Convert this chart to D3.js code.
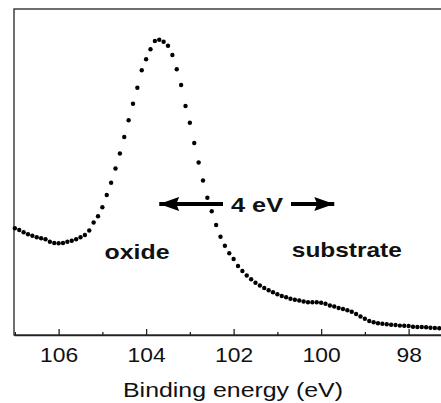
<!DOCTYPE html>
<html>
<head>
<meta charset="utf-8">
<script src="https://cdn.jsdelivr.net/npm/d3@7"></script>
<style>
  body { margin: 0; background: #fff; }
  .tick text { font-family: "Liberation Sans", Arial, sans-serif; }
</style>
</head>
<body>
<script>
// XPS spectrum: oxide peak and substrate shoulder

// binding energy grid of the measurement, 107.0 down to 97.3 eV in 0.1 eV steps
var eStart = 107.0, eStep = 0.1;

// intensity (arb. units)
var intensity = [
  106.7, 105, 102.7, 100.7, 99.3, 97.7, 96.7, 95.7, 93.3, 92,
  91.7, 92, 93.3, 94.3, 95.7, 97.7, 100, 104.5, 112.5, 118.7,
  127.7, 140, 152.2, 166.5, 181.5, 198, 214.7, 231.3, 247.3, 264.7,
  275.7, 285.7, 294, 295.3, 293.2, 289.3, 280, 265.7, 250, 229,
  212.3, 192, 172.5, 154.5, 137.3, 123.7, 110, 98.3, 89.3, 81.7,
  76, 69, 64, 59.5, 55.7, 52.3, 49.5, 47, 44.7, 42.7,
  40.7, 39, 37.7, 36.2, 35.3, 34.5, 33.5, 32.8, 32.7, 32.7,
  32.3, 31.2, 29.5, 28.5, 27, 26, 24.8, 23.2, 21, 18.5,
  16.2, 14, 12.8, 11.7, 11.3, 10.7, 10.3, 10, 9.4, 9.3,
  9, 8.3, 8, 8, 7.7, 7.3, 7, 6.7
];

var majorTicks = [106, 104, 102, 100, 98];
var minorTicks = [107, 105, 103, 101, 99, 97];

var xLabel = "Binding energy (eV)";
var labels = [
  {text: "oxide", e: 104.95, y: 76.5, len: 65},
  {text: "substrate", e: 100.67, y: 78.5, len: 110}
];
var shiftText = "4 eV";
var shiftFrom = 103.7, shiftTo = 99.7, shiftY = 131;

// dimensions
var width = 441;
var height = 403;
var plotLeft = 14, plotTop = 9, plotBottom = 335;
var sans = "Liberation Sans, Arial, sans-serif";

var data = intensity.map(function(v, i) {
  return [Math.round((eStart - i * eStep) * 10) / 10, v];
});

var svg = d3.select("body")
  .append("svg")
  .attr("width", width)
  .attr("height", height);

var xScale = d3.scaleLinear()
  .domain([107.02, 97.26])
  .range([plotLeft, width]);

var yScale = d3.scaleLinear()
  .domain([0, 326])
  .range([plotBottom, plotTop]);

// frame
svg.append("rect")
  .attr("x", plotLeft)
  .attr("y", plotTop)
  .attr("width", width + 5 - plotLeft)
  .attr("height", plotBottom - plotTop)
  .attr("fill", "none")
  .attr("stroke", "#222")
  .attr("stroke-width", 1.3);

// minor ticks
svg.append("g")
  .attr("transform", "translate(0," + plotBottom + ")")
  .call(d3.axisBottom(xScale).tickValues(minorTicks).tickSize(-3).tickFormat(""))
  .call(function(g) { g.select(".domain").remove(); })
  .selectAll("line").attr("stroke", "#222").attr("stroke-width", 1.3);

// major ticks with labels
var xAxis = svg.append("g")
  .attr("transform", "translate(0," + plotBottom + ")")
  .call(d3.axisBottom(xScale).tickValues(majorTicks).tickSizeInner(-6).tickSizeOuter(0).tickPadding(12));
xAxis.select(".domain").attr("stroke", "#222").attr("stroke-width", 1.3);
xAxis.selectAll("line").attr("stroke", "#222").attr("stroke-width", 1.3);
xAxis.selectAll("text")
  .attr("font-size", 21)
  .attr("textLength", function(d) { return String(d).length * 12.7; })
  .attr("lengthAdjust", "spacingAndGlyphs")
  .attr("fill", "#111");

svg.append("text")
  .attr("x", 233)
  .attr("y", 397)
  .attr("text-anchor", "middle")
  .attr("font-family", sans)
  .attr("font-size", 21)
  .attr("textLength", 220)
  .attr("lengthAdjust", "spacingAndGlyphs")
  .attr("fill", "#111")
  .text(xLabel);

// data points
svg.selectAll("circle")
  .data(data)
  .enter()
  .append("circle")
  .attr("cx", function(d) { return xScale(d[0]); })
  .attr("cy", function(d) { return yScale(d[1]); })
  .attr("r", 2.2)
  .attr("fill", "#000");

// annotations
svg.selectAll(".lab")
  .data(labels)
  .enter()
  .append("text")
  .attr("class", "lab")
  .attr("x", function(d) { return xScale(d.e); })
  .attr("y", function(d) { return yScale(d.y); })
  .attr("font-family", sans)
  .attr("font-weight", "bold")
  .attr("font-size", 21)
  .attr("textLength", function(d) { return d.len; })
  .attr("lengthAdjust", "spacingAndGlyphs")
  .attr("fill", "#111")
  .text(function(d) { return d.text; });

svg.append("defs").append("marker")
  .attr("id", "head")
  .attr("viewBox", "0 0 20 14")
  .attr("refX", 20)
  .attr("refY", 7)
  .attr("markerWidth", 20)
  .attr("markerHeight", 14)
  .attr("markerUnits", "userSpaceOnUse")
  .attr("orient", "auto")
  .append("path")
  .attr("d", "M0,0 L20,7 L0,14 L3,7 Z")
  .attr("fill", "#000");

var ay = yScale(shiftY);
var tx0 = 231, tx1 = 283;

svg.append("line")
  .attr("x1", tx0 - 8).attr("y1", ay)
  .attr("x2", xScale(shiftFrom)).attr("y2", ay)
  .attr("stroke", "#000").attr("stroke-width", 4)
  .attr("marker-end", "url(#head)");

svg.append("line")
  .attr("x1", tx1 + 8).attr("y1", ay)
  .attr("x2", xScale(shiftTo)).attr("y2", ay)
  .attr("stroke", "#000").attr("stroke-width", 4)
  .attr("marker-end", "url(#head)");

svg.append("text")
  .attr("x", (tx0 + tx1) / 2)
  .attr("y", ay + 8)
  .attr("text-anchor", "middle")
  .attr("font-family", sans)
  .attr("font-weight", "bold")
  .attr("font-size", 21)
  .attr("textLength", tx1 - tx0)
  .attr("lengthAdjust", "spacingAndGlyphs")
  .attr("fill", "#111")
  .text(shiftText);
</script>
</body>
</html>
